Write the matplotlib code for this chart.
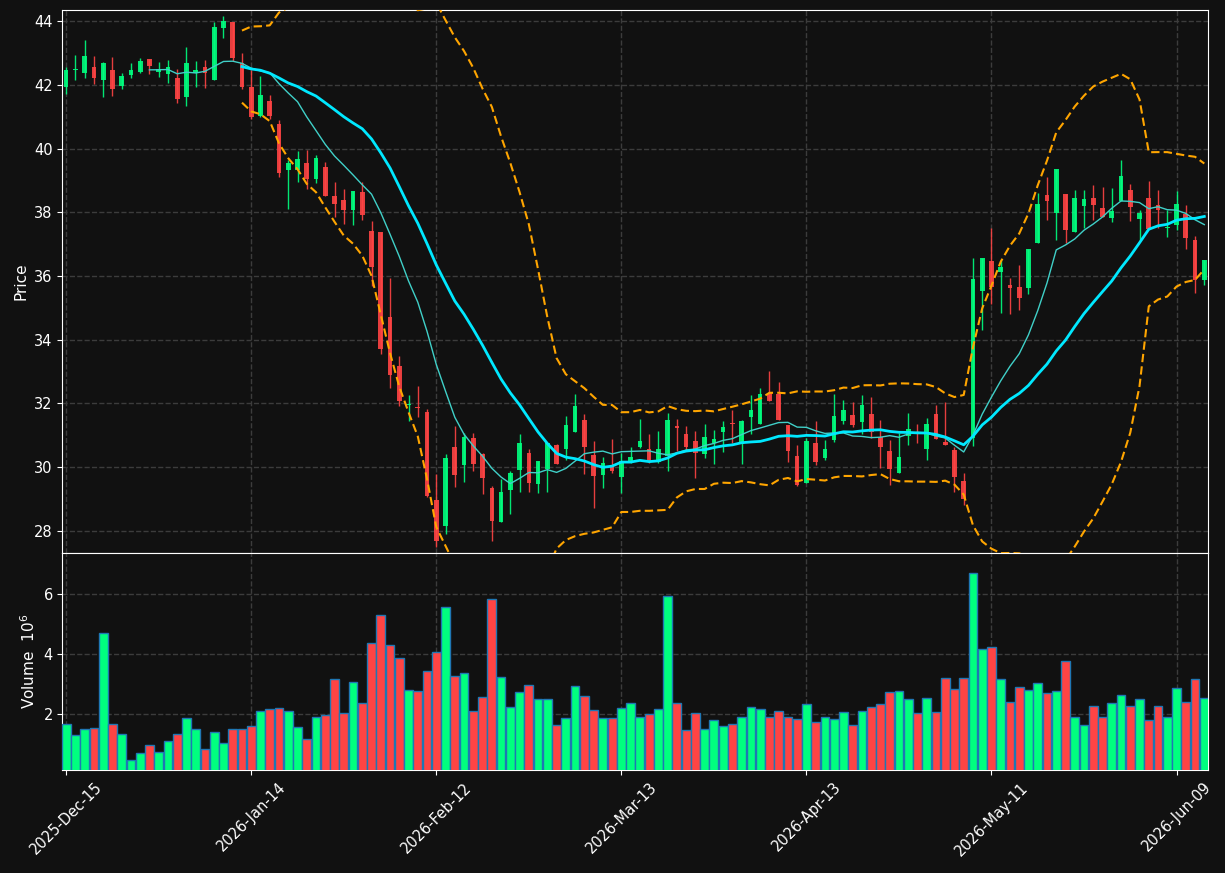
import matplotlib.pyplot as plt
import numpy as np
import pandas as pd

# Daily OHLC (one value per trading day)
opens = [41.94, 42.48, 42.38, 42.56, 42.15, 42.46, 41.97, 42.32, 42.41, 42.81,
         42.41, 42.34, 42.21, 41.63, 42.38, 42.56, 42.15, 43.79, 43.97, 42.67,
         41.92, 41.03, 41.49, 40.77, 39.33, 39.33, 39.53, 39.04, 39.43, 38.52,
         38.39, 38.08, 38.64, 37.42, 37.39, 34.72, 33.16, 31.96, 31.87, 31.74,
         28.95, 28.16, 30.64, 30.05, 30.92, 30.42, 29.35, 28.27, 29.29, 29.89,
         30.45, 29.45, 29.95, 30.70, 30.58, 31.11, 31.46, 30.39, 29.76, 30.05,
         29.68, 30.14, 30.62, 30.57, 30.15, 30.34, 31.30, 31.04, 30.83, 30.42,
         30.74, 31.10, 31.38, 30.72, 31.57, 31.36, 32.32, 32.28, 31.31, 30.34,
         29.49, 30.74, 30.29, 30.86, 31.45, 31.62, 31.42, 31.66, 30.93, 30.50,
         29.82, 30.98, 31.10, 30.56, 31.65, 30.78, 30.53, 29.56, 30.90, 35.53,
         36.46, 36.13, 35.71, 35.66, 35.63, 37.04, 38.53, 37.98, 38.56, 37.38,
         38.20, 38.46, 38.12, 37.82, 38.35, 38.71, 37.78, 38.46, 38.22, 37.49,
         37.59, 37.93, 37.14, 35.87]
highs = [42.55, 42.93, 43.40, 42.92, 42.72, 42.86, 42.38, 42.67, 42.83, 42.81,
         42.72, 42.78, 42.49, 43.19, 42.74, 42.78, 43.98, 44.17, 43.97, 42.99,
         42.46, 42.29, 41.68, 40.89, 39.64, 39.92, 39.95, 39.79, 39.59, 38.96,
         38.74, 38.67, 38.95, 37.72, 37.39, 35.93, 33.50, 32.25, 32.54, 31.83,
         29.78, 30.40, 31.30, 31.07, 31.07, 30.44, 29.40, 29.61, 29.87, 31.02,
         30.55, 30.20, 30.74, 30.72, 31.59, 32.29, 31.65, 30.81, 30.32, 30.88,
         30.44, 30.62, 31.51, 31.04, 31.14, 31.70, 31.51, 31.30, 31.12, 31.34,
         31.16, 31.44, 31.80, 31.47, 32.25, 32.49, 33.01, 32.67, 31.31, 30.69,
         30.90, 31.44, 30.84, 32.30, 32.11, 32.04, 32.25, 32.20, 31.49, 30.84,
         31.07, 31.70, 31.34, 31.54, 31.96, 32.04, 30.64, 29.82, 36.55, 36.57,
         37.49, 36.51, 35.92, 36.34, 36.84, 38.59, 39.11, 39.37, 38.56, 38.71,
         38.71, 38.85, 38.80, 38.77, 39.65, 38.87, 38.06, 38.98, 38.71, 38.08,
         38.67, 38.24, 37.25, 36.51]
lows = [41.70, 42.15, 42.20, 42.04, 41.63, 41.66, 41.86, 42.20, 42.38, 42.34,
        42.23, 42.06, 41.42, 41.35, 41.92, 41.89, 42.15, 43.46, 42.76, 41.86,
        40.92, 40.98, 40.92, 39.09, 38.10, 38.95, 38.72, 38.93, 38.50, 37.84,
        37.63, 37.59, 37.74, 35.69, 33.55, 32.49, 31.92, 31.45, 31.58, 29.05,
        27.49, 27.90, 29.38, 29.52, 29.88, 29.14, 27.69, 28.27, 28.53, 29.21,
        29.21, 29.19, 29.21, 30.08, 30.23, 31.11, 29.78, 28.72, 29.35, 29.82,
        29.19, 30.13, 30.60, 30.13, 30.11, 29.87, 30.50, 30.50, 29.66, 30.27,
        30.08, 30.46, 30.74, 30.08, 31.02, 31.35, 32.07, 31.47, 30.17, 29.39,
        29.49, 30.06, 30.22, 30.79, 31.34, 31.26, 31.05, 30.90, 29.96, 29.44,
        29.82, 30.69, 30.74, 30.22, 30.88, 30.69, 29.20, 28.81, 30.66, 34.30,
        35.13, 34.82, 34.79, 34.92, 35.42, 37.04, 37.75, 37.14, 37.02, 37.38,
        37.49, 37.75, 37.85, 37.70, 38.35, 37.73, 37.14, 37.46, 37.49, 37.23,
        37.44, 36.84, 35.47, 35.71]
closes = [42.48, 42.49, 42.90, 42.20, 42.69, 41.87, 42.27, 42.46, 42.74, 42.60,
          42.51, 42.57, 41.56, 42.69, 42.46, 42.38, 43.82, 44.00, 42.83, 41.92,
          41.00, 41.68, 41.03, 39.24, 39.53, 39.66, 39.04, 39.70, 38.50, 38.27,
          38.08, 38.67, 37.92, 36.29, 33.72, 32.89, 32.07, 31.99, 31.84, 29.10,
          27.67, 30.28, 29.76, 30.94, 30.08, 29.64, 28.30, 29.22, 29.80, 30.74,
          29.50, 30.20, 30.74, 30.08, 31.33, 31.93, 30.62, 29.71, 30.13, 29.86,
          30.20, 30.30, 30.83, 30.16, 30.55, 31.46, 31.22, 30.62, 30.44, 30.93,
          30.88, 31.27, 31.36, 31.44, 31.80, 32.28, 32.07, 31.47, 30.51, 29.44,
          30.81, 30.17, 30.55, 31.59, 31.80, 31.31, 31.94, 31.10, 30.64, 29.93,
          30.30, 31.19, 31.07, 31.36, 30.88, 30.69, 29.67, 28.98, 35.89, 36.57,
          35.66, 36.28, 35.63, 35.31, 36.84, 38.27, 38.35, 39.37, 37.44, 38.46,
          38.40, 38.22, 37.85, 38.04, 39.13, 38.15, 37.96, 37.46, 38.06, 37.52,
          38.25, 37.19, 35.87, 36.51]
# volume in millions of shares
volumes = [1.67, 1.29, 1.49, 1.53, 4.70, 1.67, 1.33, 0.47, 0.70, 0.97,
           0.73, 1.10, 1.33, 1.86, 1.49, 0.83, 1.40, 1.03, 1.49, 1.49,
           1.60, 2.09, 2.17, 2.19, 2.09, 1.56, 1.17, 1.89, 1.97, 3.17,
           2.03, 3.06, 2.37, 4.36, 5.29, 4.32, 3.86, 2.82, 2.77, 3.43,
           4.07, 5.57, 3.27, 3.37, 2.10, 2.58, 5.83, 3.23, 2.23, 2.73,
           2.97, 2.50, 2.50, 1.63, 1.87, 2.93, 2.60, 2.13, 1.87, 1.87,
           2.20, 2.37, 1.90, 2.00, 2.17, 5.93, 2.37, 1.47, 2.03, 1.50,
           1.80, 1.60, 1.67, 1.90, 2.23, 2.17, 1.90, 2.10, 1.90, 1.83,
           2.33, 1.73, 1.90, 1.83, 2.07, 1.63, 2.10, 2.23, 2.33, 2.73,
           2.77, 2.50, 2.03, 2.53, 2.07, 3.20, 2.83, 3.20, 6.70, 4.17,
           4.23, 3.17, 2.40, 2.90, 2.80, 3.03, 2.70, 2.77, 3.77, 1.90,
           1.63, 2.27, 1.90, 2.37, 2.63, 2.27, 2.50, 1.80, 2.27, 1.90,
           2.87, 2.40, 3.17, 2.53]

holidays = ['2025-12-25', '2026-01-01', '2026-01-19', '2026-02-16',
            '2026-04-03', '2026-05-25']
dates = pd.bdate_range('2025-12-15', '2026-06-12', freq='C', holidays=holidays)

df = pd.DataFrame({'Open': opens, 'High': highs, 'Low': lows,
                   'Close': closes, 'Volume': volumes}, index=dates)

# moving averages and bollinger bands
df['MA10'] = df['Close'].rolling(10).mean()
df['MA20'] = df['Close'].rolling(20).mean()
std20 = df['Close'].rolling(20).std()
df['Upper'] = df['MA20'] + 2 * std20
df['Lower'] = df['MA20'] - 2 * std20

bg = '#111111'
up_color = '#00ff7f'
down_color = '#ff4444'

fig = plt.figure(figsize=(12.25, 8.73), dpi=100, facecolor=bg)
ax = fig.add_axes([0.051, 0.3666, 0.9355, 0.6216], facecolor=bg)
axv = fig.add_axes([0.051, 0.118, 0.9355, 0.2486], facecolor=bg, sharex=ax)

x = np.arange(len(df))
is_up = df['Close'].values >= df['Open'].values
colors = np.where(is_up, up_color, down_color)

# candles
ax.vlines(x, df['Low'], df['High'], colors=colors, linewidth=1, alpha=0.9, zorder=3)
body_bottom = np.minimum(df['Open'], df['Close'])
body_height = np.maximum(np.abs(df['Close'] - df['Open']), 0.03)
ax.bar(x, body_height, bottom=body_bottom, width=0.5, color=colors, alpha=0.9,
       linewidth=0, zorder=4)

# moving averages and bands
ax.plot(x, df['MA10'], color='#40d0c8', linewidth=1, zorder=5)
ax.plot(x, df['MA20'], color='#00e8ff', linewidth=2, zorder=5)
ax.plot(x, df['Upper'], color='#ffa500', linewidth=1.5, linestyle=(0, (4, 2)), zorder=5)
ax.plot(x, df['Lower'], color='#ffa500', linewidth=1.5, linestyle=(0, (4, 2)), zorder=5)

# volume
axv.bar(x, df['Volume'], width=0.95, color=colors, edgecolor='#1f77b4',
        linewidth=1, zorder=3)

ax.set_xlim(-0.4, len(df) - 0.55)
ax.set_ylim(27.3, 44.34)
axv.set_ylim(0.3 * min(volumes), 1.1 * max(volumes))

tick_pos = x[::20]
tick_labels = [d.strftime('%Y-%b-%d') for d in dates[::20]]
axv.set_xticks(tick_pos)
axv.set_xticklabels(tick_labels, rotation=45, ha='center')
ax.tick_params(axis='x', labelbottom=False, length=0)
ax.set_yticks(np.arange(28, 45, 2))
axv.set_yticks([2, 4, 6])

for a in (ax, axv):
    a.grid(True, color='#3c3c3c', linestyle='--', linewidth=1)
    a.set_axisbelow(True)
    for s in a.spines.values():
        s.set_color('white')
    a.tick_params(colors='white', labelcolor='white', labelsize=10.5)

ax.set_ylabel('Price', color='white', fontsize=11)
axv.set_ylabel('Volume  $10^6$', color='white', fontsize=11)

fig.savefig('out.png', dpi=100, facecolor=bg)
